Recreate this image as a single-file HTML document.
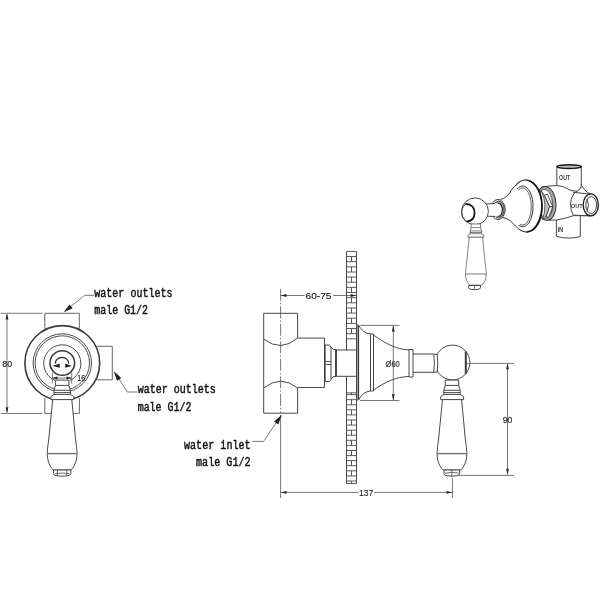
<!DOCTYPE html>
<html><head><meta charset="utf-8">
<style>
html,body{margin:0;padding:0;background:#fff;width:600px;height:600px;overflow:hidden}
svg{display:block;filter:grayscale(100%)}
.o{fill:none;stroke:#474747;stroke-width:1}
.t{fill:none;stroke:#3a3a3a;stroke-width:1.6}
.d{fill:none;stroke:#555;stroke-width:0.8}
.ah{fill:#222;stroke:none}
.lab{font-family:"Liberation Mono",monospace;font-size:12.4px;fill:#111;stroke:#111;stroke-width:0.45}
.dim{font-family:"Liberation Sans",sans-serif;font-size:9px;fill:#222;stroke:#222;stroke-width:0.15}
</style></head><body>
<svg width="600" height="600" viewBox="0 0 600 600">
<!-- ============ LEFT FRONT VIEW ============ -->
<g id="left">
  <!-- top box -->
  <path class="o" style="stroke:#666" d="M44.8,328.5 V313.3 H79.3 V328.5"/>
  <!-- right box -->
  <path class="o" style="stroke:#666" d="M96.5,346.3 H112.3 V379.8 H96.5"/>
  <!-- bottom box -->
  <path class="o" style="stroke:#666" d="M44.8,398 V413.4 H52.5 M71.5,413.4 H79.4 V398"/>
  <!-- outer circle -->
  <circle class="t" cx="62.3" cy="363" r="37.4"/>
  <circle class="o" style="stroke:#4a4a4a" cx="62.3" cy="363" r="29.2"/>
  <circle class="o" style="stroke:#4a4a4a" cx="62.3" cy="363" r="27.2"/>
  <path class="o" style="stroke:#4a4a4a" d="M55,380.5 A18.6,18.6 0 1 1 69.6,380.5"/>
  <circle class="t" cx="62.3" cy="363" r="12.3"/>
  <!-- rotation arc -->
  <path class="o" style="stroke-width:1.3;stroke:#222" d="M55.3,363.5 A6.7,6.2 0 0 1 68.7,363.5"/>
  <path class="ah" d="M52.3,366 L60,363.6 L59.5,365 L60,367.8 Z M71.6,366 L65.2,363.6 L65.2,367.8 Z"/>
  <!-- dim 16 -->
  <path class="d" d="M52.3,372.5 V383.5 M71.7,372.5 V383.5 M52.3,378 H71.7"/>
  <path class="ah" d="M52.3,378 L57.5,376.6 L57.5,379.4 Z M71.7,378 L66.5,376.6 L66.5,379.4 Z"/>
  <text class="dim" x="77.2" y="380.6" font-size="9.4" textLength="7.9" lengthAdjust="spacingAndGlyphs">16</text>
  <g id="hdl" style="vector-effect:non-scaling-stroke">
  <path class="o" style="fill:#fff" d="M55.3,380.1 H68.9 V385.4 L70.4,390.3 V394.4 L73.8,396.6 V399.6 H50.9 V396.6 L54,394.4 V390.3 L55.5,385.4 Z"/>
  <path class="o" d="M55.3,385.4 H68.9 M53.8,390.3 H70.4 M53.8,392.6 H70.4 M54,394.4 H70.4"/>
  <path class="o" style="fill:#fff" d="M52.7,399.6 L48.7,440 C47.8,446 47.3,450 47.3,453.5 C47.3,461 49.5,466 53.3,470 H71 C74.8,466 77,461 77,453.5 C77,450 76.5,446 75.6,440 L71.8,399.6 Z"/>
  <path style="fill:none;stroke:#777;stroke-width:1.4" d="M47.5,453.6 H77.1"/>
  
  </g>
  <path class="o" style="fill:#fff" d="M53.5,470 H70.9 V473.5 Q70.9,475.6 67,475.8 Q62.2,476.6 57.4,475.8 Q53.5,475.6 53.5,473.5 Z"/><path class="o" style="stroke-width:0.8" d="M57.4,470 V475.8 M66.8,470 V475.8 M55,473.6 Q62.2,472.5 69.4,473.6"/>
  <!-- dim 80 -->
  <path class="d" d="M1,313.3 H42.5 M1,413.5 H42.5 M7,314 V412.5"/>
  <path class="ah" d="M7,313.5 L5.6,319.5 L8.4,319.5 Z M7,413.3 L5.6,407.3 L8.4,407.3 Z"/>
  <text class="dim" x="2.3" y="366.8" font-size="9.8" textLength="9.8" lengthAdjust="spacingAndGlyphs">80</text>
  <!-- leader top -->
  <path class="d" d="M94,295.3 H84.7 L66,310.5"/>
  <path class="ah" d="M63.7,312.3 L72.7,308.3 L69.5,304.4 Z"/>
  <text class="lab" x="94.3" y="296.5" textLength="78.2" lengthAdjust="spacingAndGlyphs">water outlets</text>
  <text class="lab" x="94.3" y="314.2" textLength="53.7" lengthAdjust="spacingAndGlyphs">male G1/2</text>
  <!-- leader right -->
  <path class="d" d="M137.5,392 H127.3 L115.5,373.5"/>
  <path class="ah" d="M113.7,371.0 L117.0,380.8 L121.3,378.0 Z"/>
  <text class="lab" x="137.7" y="393.4" textLength="78.2" lengthAdjust="spacingAndGlyphs">water outlets</text>
  <text class="lab" x="137.7" y="410.9" textLength="53.7" lengthAdjust="spacingAndGlyphs">male G1/2</text>
</g>

<!-- ============ SIDE VIEW ============ -->
<g id="side">
  <!-- wall -->
  <path class="o" d="M346.5,251.4 V350 M346.5,376.3 V483.5 M356.5,251.4 V483.5"/>
  <path class="o" style="stroke-width:0.9" d="M346.5,251.4 H356.5 M346.5,256.5 H356.5 M346.5,261.7 H356.5 M346.5,266.8 H356.5 M346.5,272.0 H356.5 M346.5,277.1 H356.5 M346.5,282.2 H356.5 M346.5,287.4 H356.5 M346.5,292.5 H356.5 M346.5,297.7 H356.5 M346.5,302.8 H356.5 M346.5,308.0 H356.5 M346.5,313.1 H356.5 M346.5,318.2 H356.5 M346.5,323.4 H356.5 M346.5,328.5 H356.5 M346.5,333.7 H356.5 M346.5,338.8 H356.5 M351.5,256.5 V261.7 M351.5,266.8 V272.0 M351.5,277.1 V282.2 M351.5,287.4 V292.5 M351.5,297.7 V302.8 M351.5,308.0 V313.1 M351.5,318.2 V323.4 M351.5,328.5 V333.7 M346.5,392.8 H356.5 M351.5,392.8 V394.6 M346.5,394.6 H356.5 M346.5,399.7 H356.5 M351.5,399.7 V404.8 M346.5,404.8 H356.5 M346.5,409.8 H356.5 M351.5,409.8 V414.9 M346.5,414.9 H356.5 M346.5,420.0 H356.5 M351.5,420.0 V425.1 M346.5,425.1 H356.5 M346.5,430.2 H356.5 M351.5,430.2 V435.2 M346.5,435.2 H356.5 M346.5,440.3 H356.5 M351.5,440.3 V445.4 M346.5,445.4 H356.5 M346.5,450.5 H356.5 M351.5,450.5 V455.6 M346.5,455.6 H356.5 M346.5,460.6 H356.5 M351.5,460.6 V465.7 M346.5,465.7 H356.5 M346.5,470.8 H356.5 M351.5,470.8 V475.9 M346.5,475.9 H356.5 M346.5,481.0 H356.5 M351.5,481.0 V483.5 M346.5,483.5 H356.5"/>
  <!-- centre line -->
  <path class="d" style="stroke-dasharray:12 2 1.5 2" d="M280.6,288.8 V413"/>
  <path class="d" d="M280.6,415 V498"/>
  <!-- body -->
  <path class="o" d="M263.7,313.3 H297.6 V338.1 M263.7,313.3 V413.2 H297.6 V388"/>
  <path class="o" d="M263.7,339 Q280.6,352.5 297.6,338.1 M263.7,388 Q280.6,374.4 297.6,388"/>
  <path class="o" d="M297.6,338.1 H324.5 V387.5 H297.6"/>
  <!-- side nut -->
  <path class="t" d="M324.8,345 V381.5"/>
  <path class="o" d="M324.5,345 H329.5 L331,347 V379.5 L329.5,381.5 H324.5 M325.5,361.5 H331 M325.5,364.5 H331"/>
  <path class="o" d="M331,347 L333.5,349.5 H336.5 V376.5 H333.5 L331,379.5 M335.5,349.5 V376.5"/>
  <path class="o" d="M336.5,350 H356.5 M336.5,376.3 H356.5"/>
  <!-- escutcheon -->
  <path class="t" d="M358.3,325.5 V399.5"/>
  <path class="o" d="M356.8,325 H358.5 Q363,333.5 370.5,334 H373.5 V391 H370.5 Q363,391.5 358.5,400 H356.8"/>
  <path class="o" d="M370.5,334 V391"/>
  <path class="o" d="M373.5,335 C385.5,343.5 396,349.3 409,350 M373.5,390 C385.5,381.8 396,376.8 409,376.5"/>
  <path class="o" d="M409,349.5 H413 V377 H409 Z"/>
  <path class="o" d="M413,354 H434 M413,372.3 H434"/>
  <!-- ball -->
  <circle class="o" style="fill:#fff" cx="452.5" cy="362.5" r="17.4"/>
  <path class="o" style="fill:#fff" d="M433.8,354.3 Q435,363 433.8,372.2 H437.2 Q438.4,363 437.2,354.3 Z"/>
  <path class="t" style="stroke-width:2" d="M465.8,351.5 V374"/>
  <use href="#hdl" transform="translate(389.8,0)"/>
  <path class="o" style="fill:#fff" d="M444,470 H459.7 V473.5 Q459.7,475.6 456.3,475.8 Q451.8,476.6 447.3,475.8 Q444,475.6 444,473.5 Z"/><path class="o" style="stroke-width:0.8" d="M451.8,470 V476.2 M445,473.2 Q451.8,471.5 458.7,473.2"/>
  <!-- dims -->
  <path class="d" d="M280.6,295.5 H304.5 M333,295.5 H356.4"/>
  <path class="ah" d="M280.8,295.5 L286.5,294 L286.5,297 Z M356.3,295.5 L350.6,294 L350.6,297 Z"/>
  <text class="dim" x="305.5" y="299.3" font-size="10.5" textLength="26" lengthAdjust="spacingAndGlyphs">60-75</text>
  <path class="d" d="M360,325.4 H399.5 M360,400.5 H399.5 M393.3,326 V400"/>
  <path class="ah" d="M393.3,325.6 L391.9,331.6 L394.7,331.6 Z M393.3,400.3 L391.9,394.3 L394.7,394.3 Z"/>
  <text class="dim" x="385.6" y="366.7" font-size="9.2" textLength="14.2" lengthAdjust="spacingAndGlyphs">&#216;60</text>
  <path class="d" d="M466,363.4 H514 M458.5,475.4 H514 M507.5,363.5 V474.5"/>
  <path class="ah" d="M507.5,363.2 L506.1,369.2 L508.9,369.2 Z M507.5,474.8 L506.1,468.8 L508.9,468.8 Z"/>
  <text class="dim" x="502.7" y="423" font-size="10" textLength="9.6" lengthAdjust="spacingAndGlyphs">90</text>
  <path class="d" d="M452.4,478 V498 M280.6,492.4 H358.5 M374,492.4 H452.4"/>
  <path class="ah" d="M280.8,492.4 L286.5,491 L286.5,493.8 Z M452.2,492.4 L446.5,491 L446.5,493.8 Z"/>
  <text class="dim" x="359" y="495.9" font-size="9.3" textLength="14.3" lengthAdjust="spacingAndGlyphs">137</text>
  <!-- leader inlet -->
  <path class="d" d="M252.3,441.4 H263.6 L277,421.5"/>
  <path class="ah" d="M281.8,414.8 L274.0,421.6 L278.3,424.5 Z"/>
  <text class="lab" x="184" y="448.6" textLength="66.6" lengthAdjust="spacingAndGlyphs">water inlet</text>
  <text class="lab" x="196" y="466" textLength="54.6" lengthAdjust="spacingAndGlyphs">male G1/2</text>
</g>

<!-- ============ 3D VIEW ============ -->
<g id="iso">
  <!-- body pipes -->
  <path style="fill:#fff;stroke:none" d="M556.8,188 V166.7 H581.3 V188 Z"/><path class="o" d="M556.8,186 V166.7 M581.3,166.7 V185.5"/>
  <ellipse cx="569.1" cy="166.6" rx="12.1" ry="1.9" style="fill:#bbb;stroke:#1a1a1a;stroke-width:1.6"/>
  <path style="fill:#fff;stroke:none" d="M556.4,217 V236.25 Q568,239.8 580.3,236.6 V213 Z"/><path class="o" d="M556.4,219 V236.25 Q568,239.8 580.3,236.6 V215"/>
  <!-- body main -->
  <path class="o" style="fill:#fff" d="M541.3,187.2 Q549,185.6 556.6,185.6 C563,185.8 567,188.5 571,190.5 L577,191.3 Q582,188.5 581.3,185.2 Q584,189.5 587.5,192.5 L591,194 V215.8 L573.5,215.6 Q566,218.5 556.5,220 L548.7,220.2 Z"/>
  <path class="o" d="M577,191.3 Q571.5,194 570.5,204 Q570.5,211 573.5,215.6 M573,192.3 L591,194.2 M573.5,215.2 L591.3,215.8"/>
  <ellipse class="o" style="fill:#fff;stroke-width:1.4;stroke:#222" cx="590.8" cy="204.9" rx="7.6" ry="11"/>
  <ellipse class="o" style="fill:#fff" cx="591.2" cy="205" rx="5.4" ry="8.4"/>
  <path class="o" d="M587,199 Q590,205 587,211.5"/>
  <text x="559" y="179.7" style="font-family:'Liberation Sans',sans-serif;font-size:7px;font-weight:bold;fill:#444" textLength="11.3" lengthAdjust="spacingAndGlyphs">OUT</text>
  <text x="570.8" y="208.4" style="font-family:'Liberation Sans',sans-serif;font-size:5.5px;font-weight:bold;fill:#444" textLength="11.9" lengthAdjust="spacingAndGlyphs">OUT</text>
  <text x="557.4" y="232.2" style="font-family:'Liberation Sans',sans-serif;font-size:6.5px;font-weight:bold;fill:#444" textLength="6" lengthAdjust="spacingAndGlyphs">IN</text>
  <!-- nut -->
  <ellipse cx="546" cy="203.4" rx="9.9" ry="17" transform="rotate(-5 546 203.3)" style="fill:#a5a5a5;stroke:#333;stroke-width:1"/>
  <ellipse cx="545.2" cy="203.6" rx="7.4" ry="14.4" transform="rotate(-5 546 203.3)" style="fill:#fff;stroke:#444;stroke-width:0.8"/>
  <path style="fill:#c4c4c4;stroke:#333;stroke-width:0.8" d="M541,190.5 Q548,204 542.6,219.5 L546.2,216.5 L549.6,206.6 L544.6,195.4 Z"/>
  <path style="fill:#fff;stroke:#333;stroke-width:0.9" d="M544.6,195.4 L547.3,194 L552.8,206.6 L549.6,206.6 Z M549.6,206.6 L552.8,206.6 L548.7,217.4 L546.2,216.5 Z"/>
  <!-- plate -->
  <ellipse cx="526.2" cy="206" rx="15.8" ry="26.1" transform="rotate(-3 526.2 206)" style="fill:#fff;stroke:#222;stroke-width:1.1"/>
  <path style="fill:none;stroke:#111;stroke-width:1.6" d="M529,180.8 C536,183 541.5,192 542,205 C542,218 536,231 527,232"/>
  <!-- bell -->
  <path style="fill:#fff;stroke:none" d="M500.5,199.4 C504.5,198.6 507.5,196 509.5,193.2 C511.5,190 513.5,186.5 517.3,184.2 L523.3,231.5 C519.5,230 517.5,228 515.5,226 C513.5,224 512,222.3 510.5,221 C507.5,218.6 505,217.8 501.5,217.5 Z"/>
  <path style="fill:none;stroke:#333;stroke-width:1" d="M500.5,199.4 C504.5,198.6 507.5,196 509.5,193.2 C511.5,190 513.5,186.5 517.3,184.2 M523.3,231.5 C519.5,230 517.5,228 515.5,226 C513.5,224 512,222.3 510.5,221 C507.5,218.6 505,217.8 501.5,217.5"/>
  <path style="fill:none;stroke:#333;stroke-width:1" d="M517.1,189.1 A10.4,20.4 0 1 1 518.7,225.3"/>
  <path style="fill:none;stroke:#555;stroke-width:0.9" d="M518.6,190.0 A8.6,18.599999999999998 0 1 1 519.9,224.1"/>
  <!-- collar -->
  <ellipse cx="498" cy="209.5" rx="7.2" ry="10" style="fill:#fff;stroke:#333;stroke-width:1"/>
  <ellipse cx="498.6" cy="209.6" rx="5.6" ry="8.4" style="fill:#9a9a9a;stroke:#333;stroke-width:0.8"/>
  <ellipse cx="498.2" cy="209.8" rx="4.2" ry="6.6" style="fill:#fff;stroke:#222;stroke-width:1.1"/>
  <!-- spindle -->
  <path style="fill:#fff;stroke:none" d="M485,204.1 L498.2,203.3 L498.2,216.5 L485,216.3 Z"/>
  <path class="o" d="M486,204 L495,203.4 M486,216.2 L495,216.4"/>
  <!-- ball -->
  <circle class="o" style="fill:#fff" cx="475" cy="211.3" r="13.4"/>
  <ellipse class="o" cx="468.1" cy="212.7" rx="6.5" ry="9"/>
  <path style="fill:none;stroke:#111;stroke-width:1.7" d="M465.5,203.8 C471.5,204.3 474.6,208 474.6,212.7 C474.6,217.5 471.5,221 466.5,221.7"/>
  <!-- handle -->
  <use href="#hdl" transform="matrix(0.7,0,0,0.68,432.36,-34.47)"/>
  <path class="o" style="fill:#fff" d="M468.6,285.5 H480.5 V287.8 Q480.5,289.3 477.6,289.4 Q474.5,290 471.4,289.4 Q468.6,289.3 468.6,287.8 Z"/><path class="o" style="stroke-width:0.7" d="M474.5,285.5 V289.8"/>
</g>
</svg>
</body></html>
